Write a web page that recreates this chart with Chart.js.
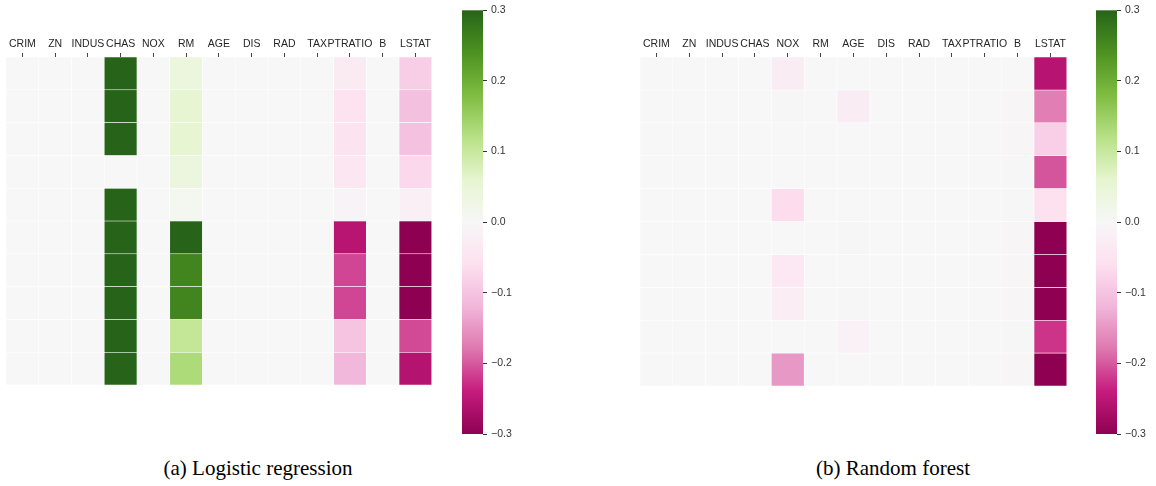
<!DOCTYPE html>
<html>
<head>
<meta charset="utf-8">
<script src="https://cdn.jsdelivr.net/npm/chart.js@4"></script>
<style>
  body { margin: 0; background: #fff; width: 1156px; height: 486px; position: relative; overflow: hidden; }
  .box { position: absolute; }
  .cap { position: absolute; font-family: "Liberation Serif", "Times New Roman", serif; font-size: 21px; line-height: 24px; color: #000; white-space: nowrap; transform: translateX(-50%); }
</style>
</head>
<body>
<div class="box" style="left:6px;top:30px;width:428px;height:355px"><canvas id="heatLR"></canvas></div>
<div class="box" style="left:462px;top:0px;width:60px;height:445px"><canvas id="barLR"></canvas></div>
<div class="box" style="left:640px;top:30px;width:429px;height:356px"><canvas id="heatRF"></canvas></div>
<div class="box" style="left:1096px;top:0px;width:60px;height:445px"><canvas id="barRF"></canvas></div>
<div class="cap" style="left:258px;top:456px">(a) Logistic regression</div>
<div class="cap" style="left:893px;top:456px">(b) Random forest</div>
<script>
// features (columns)
var features = ["CRIM", "ZN", "INDUS", "CHAS", "NOX", "RM", "AGE", "DIS", "RAD", "TAX", "PTRATIO", "B", "LSTAT"];

// logistic regression, one row per instance
var logRegRows = [
  [0, 0, 0, 0.3, 0, 0.042, 0, 0, 0, 0, -0.034, 0, -0.086],
  [0, 0, 0, 0.3, 0, 0.056, 0, 0, 0, 0, -0.055, 0, -0.106],
  [0, 0, 0, 0.3, 0, 0.056, 0, 0, 0, 0, -0.052, 0, -0.104],
  [0, 0, 0, 0, 0, 0.038, 0, 0, 0, 0, -0.044, 0, -0.071],
  [0, 0, 0, 0.3, 0, 0.011, 0, 0, 0, 0, -0.01, 0, -0.021],
  [0, 0, 0, 0.3, 0, 0.3, 0, 0, 0, 0, -0.254, 0, -0.3],
  [0, 0, 0, 0.3, 0, 0.257, 0, 0, 0, 0, -0.212, 0, -0.3],
  [0, 0, 0, 0.3, 0, 0.257, 0, 0, 0, 0, -0.212, 0, -0.3],
  [0, 0, 0, 0.3, 0, 0.106, 0, 0, 0, 0, -0.1, 0, -0.21],
  [0, 0, 0, 0.3, 0, 0.13, 0, 0, 0, 0, -0.117, 0, -0.258],
];

// random forest, one row per instance
var forestRows = [
  [0, 0, 0, 0, -0.029, 0, 0, 0, 0, 0, 0, 0, -0.255],
  [0, 0, 0, 0, -0.002, 0, -0.03, 0, 0, 0, 0, -0.004, -0.172],
  [0, 0, 0, 0, 0, 0, 0, 0, 0, 0, 0, -0.004, -0.084],
  [0, 0, 0, 0, 0, 0, 0, 0, 0, 0, 0, -0.003, -0.202],
  [0, 0, 0, 0, -0.066, 0, 0, 0, 0, 0, 0, -0.003, -0.058],
  [0, 0, 0, 0, 0, 0, -0.002, 0, 0, 0, 0, -0.004, -0.3],
  [0, 0, 0, 0, -0.039, 0, 0, 0, 0, 0, 0, -0.004, -0.3],
  [0, 0, 0, 0, -0.026, 0, -0.002, 0, 0, 0, 0, -0.004, -0.3],
  [0, 0, 0, 0, 0, 0, -0.016, 0, 0, 0, 0, -0.003, -0.224],
  [0, 0, 0, 0, -0.149, 0, 0, 0, 0, 0, 0, -0.004, -0.3],
];

var vmin = -0.3, vmax = 0.3;
var colorbarTicks = [-0.3, -0.2, -0.1, 0, 0.1, 0.2, 0.3];

// PiYG colormap stops
var piyg = ["#8e0152", "#c51b7d", "#de77ae", "#f1b6da", "#fde0ef", "#f7f7f7", "#e6f5d0", "#b8e186", "#7fbc41", "#4d9221", "#276419"];

function hexRgb(h) {
  return [parseInt(h.substr(1, 2), 16), parseInt(h.substr(3, 2), 16), parseInt(h.substr(5, 2), 16)];
}

function colorFor(v) {
  var t = (v - vmin) / (vmax - vmin);
  t = Math.max(0, Math.min(1, t));
  var pos = t * (piyg.length - 1);
  var i = Math.min(Math.floor(pos), piyg.length - 2);
  var f = pos - i;
  var a = hexRgb(piyg[i]), b = hexRgb(piyg[i + 1]);
  var c = a.map(function (x, k) { return Math.round(x + (b[k] - x) * f); });
  return "rgb(" + c[0] + "," + c[1] + "," + c[2] + ")";
}

Chart.defaults.font.family = "'Liberation Sans', Arial, sans-serif";
Chart.defaults.font.size = 10.5;
Chart.defaults.animation = false;
Chart.defaults.plugins.legend.display = false;
Chart.defaults.plugins.tooltip.enabled = false;

function makeHeatmap(id, rows) {
  var datasets = rows.map(function (row, r) {
    return {
      data: row.map(function () { return [r, r + 1]; }),
      backgroundColor: row.map(colorFor),
      borderColor: "#ffffff",
      borderWidth: 0.6,
      borderSkipped: false,
      barPercentage: 1,
      categoryPercentage: 1,
      grouped: false,
    };
  });
  return new Chart(document.getElementById(id), {
    type: "bar",
    data: { labels: features, datasets: datasets },
    options: {
      responsive: true,
      maintainAspectRatio: false,
      devicePixelRatio: 1,
      layout: { padding: 0 },
      scales: {
        x: {
          position: "top",
          grid: { drawOnChartArea: false, drawTicks: true, tickLength: 4, color: "#444", offset: false },
          border: { display: false },
          ticks: { color: "#262626", padding: 3, maxRotation: 0, autoSkip: false },
          afterFit: function (scale) { scale.height = 27; },
        },
        y: { type: "linear", min: 0, max: rows.length, reverse: true, display: false },
      },
    },
  });
}

var gradientFill = {
  id: "gradientFill",
  beforeDatasetsDraw: function (chart) {
    var a = chart.chartArea, ctx = chart.ctx;
    var g = ctx.createLinearGradient(0, a.bottom, 0, a.top);
    piyg.forEach(function (c, i) { g.addColorStop(i / (piyg.length - 1), c); });
    ctx.save();
    ctx.fillStyle = g;
    ctx.fillRect(a.left, a.top, a.right - a.left, a.bottom - a.top);
    ctx.restore();
  },
};

function makeColorbar(id) {
  return new Chart(document.getElementById(id), {
    type: "bar",
    data: { labels: [""], datasets: [] },
    plugins: [gradientFill],
    options: {
      responsive: true,
      maintainAspectRatio: false,
      devicePixelRatio: 1,
      layout: { padding: { top: 9, bottom: 11, left: 0, right: 0 } },
      scales: {
        x: { display: false },
        y: {
          type: "linear",
          position: "right",
          min: vmin,
          max: vmax,
          afterBuildTicks: function (scale) {
            scale.ticks = colorbarTicks.map(function (v) { return { value: v }; });
          },
          grid: { drawOnChartArea: false, drawTicks: true, tickLength: 4, color: "#333" },
          border: { display: false },
          ticks: {
            color: "#333",
            padding: 4,
            callback: function (v) {
              var s = Math.abs(v) < 1e-9 ? "0.0" : Number(v).toFixed(1);
              return s.replace("-", "\u2212");
            },
          },
          afterFit: function (scale) { scale.width = 39; },
        },
      },
    },
  });
}

makeHeatmap("heatLR", logRegRows);
makeHeatmap("heatRF", forestRows);
makeColorbar("barLR");
makeColorbar("barRF");
</script>
</body>
</html>
